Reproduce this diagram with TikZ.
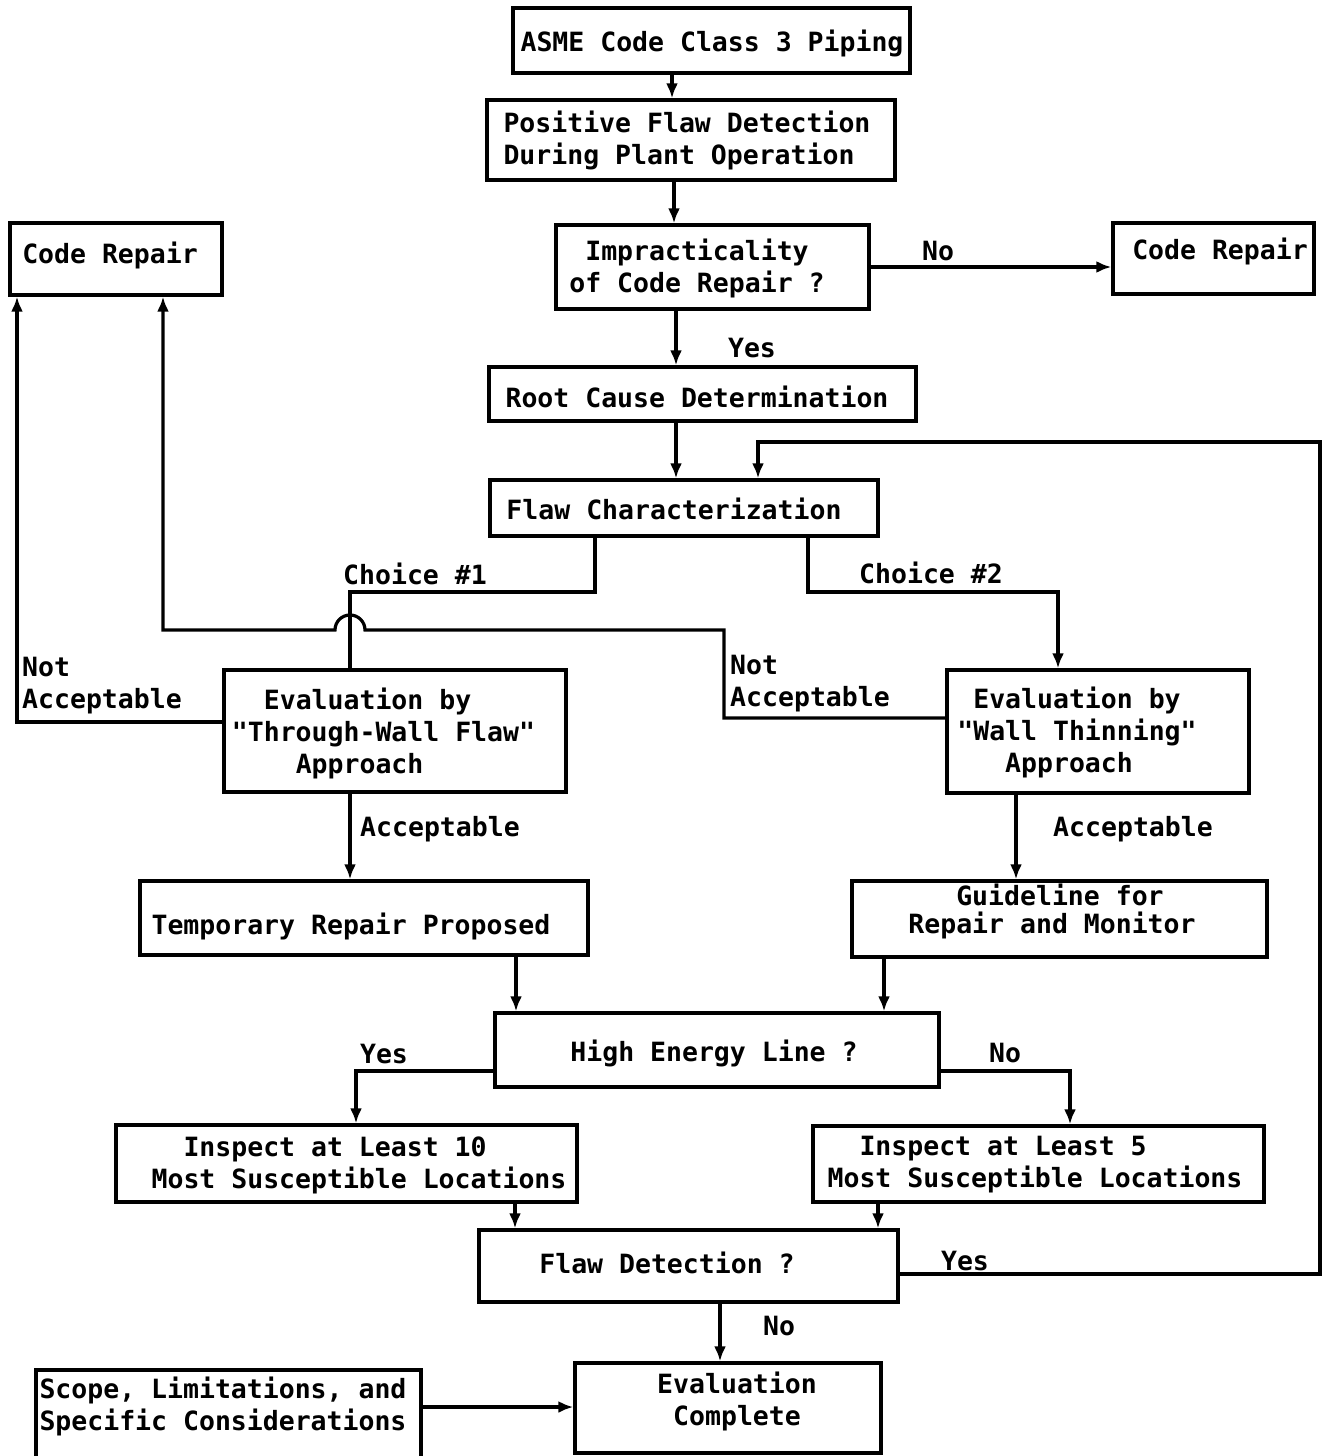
\documentclass[tikz,border=0pt]{standalone}
\usepackage{fontspec}
\setmonofont{DejaVu Sans Mono}
\usetikzlibrary{arrows.meta}
\newcommand\twf{\ttfamily\bfseries\fontsize{26.5}{32}\selectfont}
\begin{document}
\begin{tikzpicture}[x=1pt,y=-1pt,
  box/.style={draw, line width=3.4pt, rectangle, inner sep=0pt},
  txt/.style={font=\twf, inner sep=0pt, align=center},
  txl/.style={font=\twf, inner sep=0pt, align=left},
  conn/.style={line width=3.2pt},
  arr/.style={conn, -{Latex[length=15pt,width=12pt]}}]
\fill[white] (0,0) rectangle (1328,1456);
\useasboundingbox (0,0) rectangle (1328,1456);

% boxes
\node[box, minimum width=397, minimum height=65] (asme) at (711.5,40.5) {};
\node[box, minimum width=408, minimum height=80] (pos) at (691,140) {};
\node[box, minimum width=313, minimum height=84] (imp) at (712.5,267) {};
\node[box, minimum width=201, minimum height=71] (crR) at (1213.5,258.5) {};
\node[box, minimum width=212, minimum height=72] (crL) at (116,259) {};
\node[box, minimum width=427, minimum height=54] (root) at (702.5,394) {};
\node[box, minimum width=388, minimum height=56] (flaw) at (684,508) {};
\node[box, minimum width=342, minimum height=122] (evTW) at (395,731) {};
\node[box, minimum width=302, minimum height=123] (evWT) at (1098,731.5) {};
\node[box, minimum width=448, minimum height=74] (temp) at (364,918) {};
\node[box, minimum width=415, minimum height=76] (guide) at (1059.5,919) {};
\node[box, minimum width=444, minimum height=74] (high) at (717,1050) {};
\node[box, minimum width=461, minimum height=77] (ins10) at (346.5,1163.5) {};
\node[box, minimum width=451, minimum height=76] (ins5) at (1038.5,1164) {};
\node[box, minimum width=419, minimum height=72] (fdet) at (688.5,1266) {};
\node[box, minimum width=306, minimum height=90] (evc) at (728,1408) {};
\node[box, minimum width=385, minimum height=90] (scope) at (228.5,1415) {};

% box texts
\node[txt] (tasme) at (712,43) {ASME Code Class 3 Piping};
\node[txl] (tpos) at (687,140) {Positive Flaw Detection\\During Plant Operation};
\node[txt] (timp) at (697,268) {Impracticality\\of Code Repair ?};
\node[txt] (tcrR) at (1220,251) {Code Repair};
\node[txt] (tcrL) at (110,255) {Code Repair};
\node[txt] (troot) at (697,397) {Root Cause Determination};
\node[txt] (tflaw) at (674,509) {Flaw Characterization};
\node[txl] (tevTW) at (383.5,733) {\phantom{Ev}Evaluation by\\"Through-Wall Flaw"\\\phantom{Appr}Approach};
\node[txl] (tevWT) at (1077,732) {\phantom{E}Evaluation by\\"Wall Thinning"\\\phantom{App}Approach};
\node[txt] (ttemp) at (351,926) {Temporary Repair Proposed};
\node[txl] (tguide) at (1052,911) {\phantom{xxx}Guideline for\\[-4pt]Repair and Monitor};
\node[txt] (thigh) at (714,1053) {High Energy Line ?};
\node[txl] (tins10) at (359,1165) {\phantom{xx}Inspect at Least 10\\Most Susceptible Locations};
\node[txl] (tins5) at (1035,1165) {\phantom{xx}Inspect at Least 5\\Most Susceptible Locations};
\node[txt] (tfdet) at (667,1263) {Flaw Detection ?};
\node[txt] (tevc) at (737,1401) {Evaluation\\Complete};
\node[txl] (tscope) at (223,1406) {Scope, Limitations, and\\Specific Considerations};

% labels
\node[txt] (lno1) at (938,251) {No};
\node[txt] (lyes1) at (752,348) {Yes};
\node[txt] (lch1) at (415,574) {Choice \#1};
\node[txt] (lch2) at (931,573) {Choice \#2};
\node[txl] (lna1) at (102,686) {Not\\Acceptable};
\node[txl] (lna2) at (810,684) {Not\\Acceptable};
\node[txt] (lac1) at (440,829) {Acceptable};
\node[txt] (lac2) at (1133,829) {Acceptable};
\node[txt] (lyes2) at (384,1054) {Yes};
\node[txt] (lno2) at (1005,1053) {No};
\node[txt] (lyes3) at (965,1261) {Yes};
\node[txt] (lno3) at (779,1326) {No};

% connectors
\draw[arr] (672,0 |- asme.south) -- (672,0 |- pos.north);
\draw[arr] (674,0 |- pos.south) -- (674,0 |- imp.north);
\draw[arr] (imp.east |- 0,267) -- (crR.west |- 0,267);
\draw[arr] (676,0 |- imp.south) -- (676,0 |- root.north);
\draw[arr] (676,0 |- root.south) -- (676,0 |- flaw.north);
\draw[arr] (fdet.east |- 0,1274) -- (1320,1274) -- (1320,442) -- (758,442) -- (758,0 |- flaw.north);
\draw[conn] (595,0 |- flaw.south) -- (595,592) -- (350,592) -- (350,0 |- evTW.north);
\draw[arr] (808,0 |- flaw.south) -- (808,592) -- (1058,592) -- (1058,0 |- evWT.north);
\draw[arr] (evTW.west |- 0,722) -- (17,722) -- (17,0 |- crL.south);
\draw[arr] (evWT.west |- 0,718) -- (724,718) -- (724,630) -- (365,630)
  arc[start angle=0, end angle=-180, radius=15] -- (163,630) -- (163,0 |- crL.south);
\draw[arr] (350,0 |- evTW.south) -- (350,0 |- temp.north);
\draw[arr] (1016,0 |- evWT.south) -- (1016,0 |- guide.north);
\draw[arr] (516,0 |- temp.south) -- (516,0 |- high.north);
\draw[arr] (884,0 |- guide.south) -- (884,0 |- high.north);
\draw[arr] (high.west |- 0,1071) -- (356,1071) -- (356,0 |- ins10.north);
\draw[arr] (high.east |- 0,1071) -- (1070,1071) -- (1070,0 |- ins5.north);
\draw[arr] (515,0 |- ins10.south) -- (515,0 |- fdet.north);
\draw[arr] (878,0 |- ins5.south) -- (878,0 |- fdet.north);
\draw[arr] (720,0 |- fdet.south) -- (720,0 |- evc.north);
\draw[arr] (scope.east |- 0,1407) -- (evc.west |- 0,1407);
\end{tikzpicture}
\end{document}
